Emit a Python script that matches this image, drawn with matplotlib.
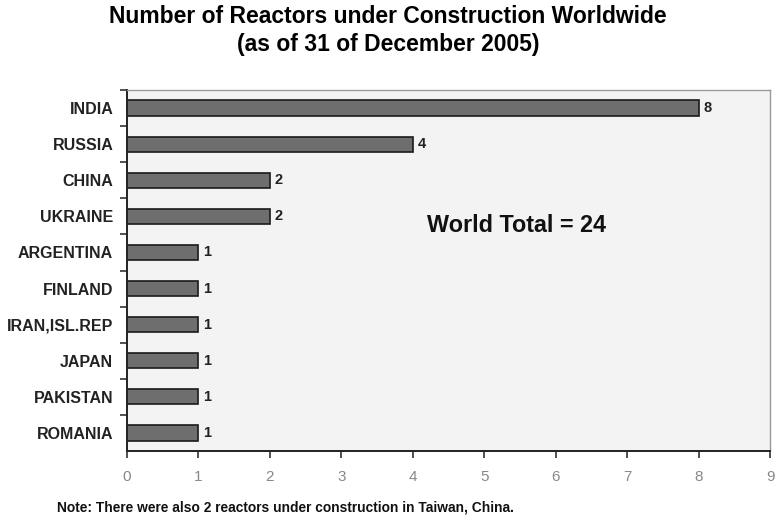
import matplotlib.pyplot as plt

plt.rcParams['font.family'] = ['Liberation Sans', 'DejaVu Sans']

countries = ['INDIA', 'RUSSIA', 'CHINA', 'UKRAINE', 'ARGENTINA', 'FINLAND',
             'IRAN,ISL.REP', 'JAPAN', 'PAKISTAN', 'ROMANIA']
reactors = [8, 4, 2, 2, 1, 1, 1, 1, 1, 1]
xticks = [0, 1, 2, 3, 4, 5, 6, 7, 8, 9]

fig = plt.figure(figsize=(7.76, 5.22), dpi=100)
ax = fig.add_axes([0.1637, 0.136, 0.8286, 0.6916])
ax.set_facecolor('#f3f3f3')

pos = list(range(len(countries)))
ax.barh(pos, reactors, height=0.42, color='#6e6e6e', edgecolor='#1a1a1a', linewidth=1.2)
for p, v in zip(pos, reactors):
    ax.text(v + 0.07, p, str(v), va='center', ha='left', fontsize=10.5,
            fontweight='bold', color='#222222')

ax.set_ylim(len(countries) - 0.5, -0.5)
ax.set_xlim(0, 9)
ax.set_yticks(pos)
ax.set_yticklabels(countries, fontsize=11.5, fontweight='bold', color='#222222')
ax.set_yticks([p + 0.5 for p in pos[:-1]] + [-0.5], minor=True)
ax.tick_params(axis='y', which='major', length=0, pad=10)
ax.tick_params(axis='y', which='minor', length=5, width=1.2, color='#333333')
ax.set_xticks(xticks)
ax.set_xticklabels([str(t) for t in xticks], fontsize=11, color='#888888')
ax.tick_params(axis='x', length=5, width=1.2, color='#333333', pad=9)

for s in ['left', 'bottom']:
    ax.spines[s].set_color('#222222')
    ax.spines[s].set_linewidth(1.4)
for s in ['top', 'right']:
    ax.spines[s].set_color('#999999')
    ax.spines[s].set_linewidth(1.0)

ax.text(5.45, 3.25, 'World Total = 24', fontsize=16.8, fontweight='bold',
        ha='center', va='center', color='#111111')

fig.text(0.5, 0.968, 'Number of Reactors under Construction Worldwide',
         ha='center', va='center', fontsize=16.5, fontweight='bold')
fig.text(0.5, 0.915, '(as of 31 of December 2005)',
         ha='center', va='center', fontsize=16.5, fontweight='bold')
fig.text(0.074, 0.027, 'Note: There were also 2 reactors under construction in Taiwan, China.',
         ha='left', va='center', fontsize=9.9, fontweight='bold', color='#111111')

fig.savefig('out.png', dpi=100, facecolor='white')
